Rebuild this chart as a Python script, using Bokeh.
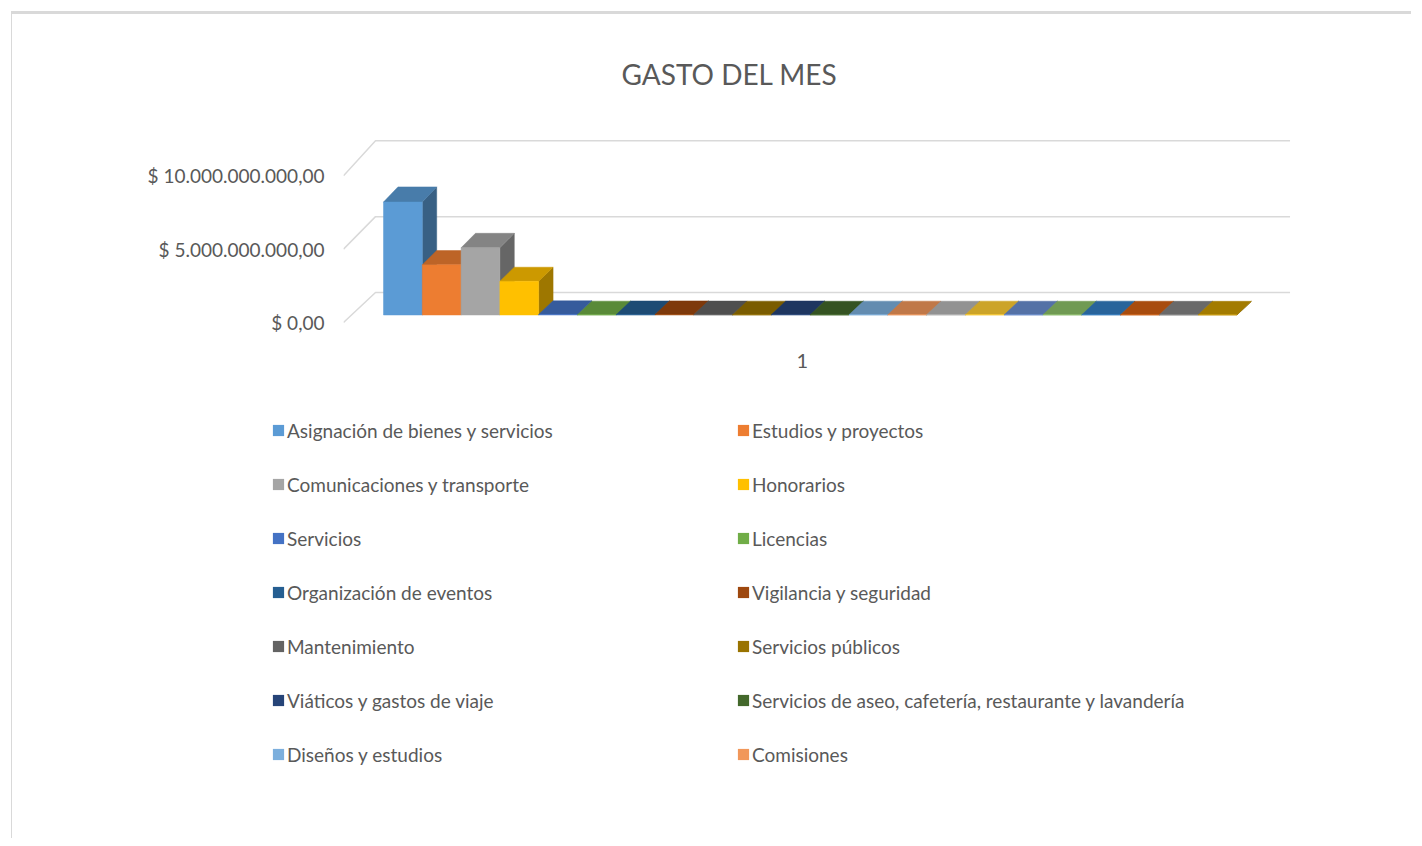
from bokeh.plotting import figure
from bokeh.models import (ColumnDataSource, Legend, LegendItem, FixedTicker,
                          Range1d)
from bokeh.embed import file_html
from bokeh.resources import INLINE

# ---------------- data ----------------
title_text = "GASTO DEL MES"
series_names = [
    "Asignación de bienes y servicios",
    "Estudios y proyectos",
    "Comunicaciones y transporte",
    "Honorarios",
    "Servicios",
    "Licencias",
    "Organización de eventos",
    "Vigilancia y seguridad",
    "Mantenimiento",
    "Servicios públicos",
    "Viáticos y gastos de viaje",
    "Servicios de aseo, cafetería, restaurante y lavandería",
    "Diseños y estudios",
    "Comisiones",
]
values = [7.63e9, 3.39e9, 4.54e9, 2.28e9, 4.0e7, 2.0e7, 3.0e7, 3.5e7,
          2.5e7, 2.0e7, 3.0e7, 1.5e7, 2.0e7, 2.0e7, 1.5e7, 2.0e7,
          1.5e7, 1.5e7, 2.0e7, 1.5e7, 1.0e7, 1.0e7]
colors = ["#5B9BD5", "#ED7D31", "#A5A5A5", "#FFC000", "#4472C4", "#70AD47",
          "#255E91", "#9E480E", "#636363", "#997300", "#264478", "#43682B",
          "#7CAFDD", "#F1975A", "#B7B7B7", "#FFCD33", "#698ED0", "#8CC168",
          "#327DC2", "#D26012", "#848484", "#CC9A00"]
category_label = "1"
y_ticks = [0, 5000000000, 10000000000]
y_tick_labels = ["$ 0,00", "$ 5.000.000.000,00", "$ 10.000.000.000,00"]

FONT = "Lato"
TXT = "#595959"
GRID = "#d9d9d9"

# 3-D projection parameters (data units)
DX = 0.825        # floor depth in x units
DY = 2.05e9       # floor depth in value units
KB = 0.033        # back wall slightly larger scale
A, B = 0.25, 0.70  # bar depth span (fraction of floor depth)
XL, XR = -0.825, 22.75


def shade(hexc, f):
    h = hexc.lstrip("#")
    r, g, b = (int(h[i:i + 2], 16) for i in (0, 2, 4))
    return "#%02x%02x%02x" % (int(r * f), int(g * f), int(b * f))


def proj(x, v, d):
    return x + d * DX, v * (1 + KB * d) + d * DY


# ---------------- chart ----------------
p = figure(width=1400, height=395, output_backend="svg", toolbar_location=None,
           x_range=Range1d(-0.825, 23.69), y_range=Range1d(-0.203e9, 13.017e9),
           min_border_left=331, min_border_right=118, min_border_top=116,
           min_border_bottom=84)
p.margin = (11, 0, 0, 11)
p.styles = {"border-top": "3px solid #d9d9d9", "border-left": "1px solid #d9d9d9"}
p.outline_line_color = None
p.xgrid.visible = False
p.ygrid.visible = False

# title
p.title.text = title_text
p.title.text_font = FONT
p.title.text_font_size = "28px"
p.title.text_font_style = "normal"
p.title.text_color = TXT
p.title.align = "left"
p.title.offset = 278
p.title.standoff = 81

# 3-D gridlines
gx, gy = [], []
for v in y_ticks:
    x0, y0 = proj(XL, v, 0)
    x1, y1 = proj(XL, v, 1)
    x2, y2 = proj(XR, v, 1)
    gx.append([x0, x1, x2])
    gy.append([y0, y1, y2])
p.multi_line(gx, gy, line_color=GRID, line_width=1.5)

# bars (side, top, front faces)
for i, (v, c) in enumerate(zip(values, colors)):
    x0, x1 = i, i + 1
    faces = [
        [(x1, 0, A), (x1, v, A), (x1, v, B), (x1, 0, B)],
        [(x0, v, A), (x1, v, A), (x1, v, B), (x0, v, B)],
        [(x0, 0, A), (x1, 0, A), (x1, v, A), (x0, v, A)],
    ]
    xs, ys = [], []
    for f in faces:
        pts = [proj(*q) for q in f]
        xs.append([q[0] for q in pts])
        ys.append([q[1] for q in pts])
    fc = [shade(c, 0.62), shade(c, 0.8), c]
    src = ColumnDataSource(dict(xs=xs, ys=ys, fc=fc))
    p.patches("xs", "ys", source=src, fill_color="fc", line_color="fc",
              line_width=0.5)

# axes
p.yaxis.ticker = FixedTicker(ticks=y_ticks)
p.yaxis.major_label_overrides = dict(zip(y_ticks, y_tick_labels))
p.yaxis.axis_line_color = None
p.yaxis.major_tick_line_color = None
p.yaxis.minor_tick_line_color = None
p.yaxis.major_tick_out = 0
p.yaxis.major_tick_in = 0
p.yaxis.major_label_standoff = 19
p.yaxis.major_label_text_font = FONT
p.yaxis.major_label_text_font_size = "19px"
p.yaxis.major_label_text_color = TXT

center_x = len(values) / 2
p.xaxis.ticker = FixedTicker(ticks=[center_x])
p.xaxis.major_label_overrides = {center_x: category_label}
p.xaxis.axis_line_color = None
p.xaxis.major_tick_line_color = None
p.xaxis.minor_tick_line_color = None
p.xaxis.major_tick_out = 0
p.xaxis.major_tick_in = 0
p.xaxis.major_label_standoff = 28
p.xaxis.major_label_text_font = FONT
p.xaxis.major_label_text_font_size = "20px"
p.xaxis.major_label_text_color = TXT

# ---------------- legend panel ----------------
p2 = figure(width=1400, height=432, output_backend="svg", toolbar_location=None,
            x_range=Range1d(0, 1), y_range=Range1d(0, 1),
            x_axis_type=None, y_axis_type=None, min_border=0)
p2.margin = (0, 0, 0, 11)
p2.styles = {"border-left": "1px solid #d9d9d9"}
p2.outline_line_color = None
p2.xgrid.visible = False
p2.ygrid.visible = False

leg_renderers = []
for k, name in enumerate(series_names):
    # swatch source lies outside the visible range: only the legend shows it
    src = ColumnDataSource(dict(left=[-3], right=[-2], top=[-2], bottom=[-3]))
    r = p2.quad(left="left", right="right", top="top", bottom="bottom",
                source=src, fill_color=colors[k], line_color=None)
    leg_renderers.append(r)

for col, vx in ((0, 259), (1, 724)):
    items = [LegendItem(label=series_names[k], renderers=[leg_renderers[k]])
             for k in range(col, len(series_names), 2)]
    lg = Legend(items=items, location=(vx, 70), orientation="vertical",
                label_text_font=FONT, label_text_font_size="19px",
                label_text_color=TXT, glyph_width=14, glyph_height=14,
                label_standoff=2, label_height=28, spacing=26, padding=0,
                margin=0, border_line_color=None, background_fill_alpha=0)
    p2.add_layout(lg)

open("out.html", "w").write(file_html([p, p2], INLINE))
